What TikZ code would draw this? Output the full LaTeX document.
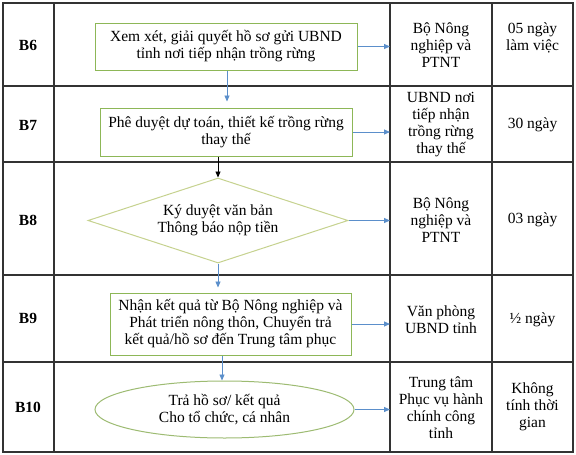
\documentclass[tikz,border=0pt]{standalone}
\usepackage{fontspec}
\setmainfont{Liberation Serif}
\usetikzlibrary{shapes.geometric,arrows.meta}
\definecolor{boxgreen}{HTML}{8DB757}
\definecolor{diagyel}{HTML}{C6D28F}
\definecolor{ellgreen}{HTML}{9DBB72}
\definecolor{arrowblue}{HTML}{5B8FCB}
\definecolor{gridc}{HTML}{333333}
\tikzset{
  gridline/.style={draw=gridc, line width=1.3pt},
  txt/.style={font=\fontsize{15.5}{17}\selectfont, align=center, inner sep=0pt},
  lbl/.style={txt, font=\fontsize{15.5}{17}\selectfont\bfseries},
  procbox/.style={draw=boxgreen, line width=1pt, txt, rectangle},
  decbox/.style={draw=diagyel, line width=1pt, txt, diamond, aspect=3},
  endbox/.style={draw=ellgreen, line width=1pt, txt, ellipse},
  flow/.style={draw=arrowblue, line width=0.8pt, -{Triangle[length=6pt,width=5pt]}},
  blackflow/.style={draw=black, line width=0.8pt, -{Triangle[length=6pt,width=5pt]}}
}
\begin{document}
\begin{tikzpicture}[x=1pt,y=-1pt]
\useasboundingbox (0,0) rectangle (576,455);
\fill[white] (0,0) rectangle (576,455);
% table grid
\draw[gridline] (3,3) rectangle (573,452);
\draw[gridline] (54,3) -- (54,452);
\draw[gridline] (390,3) -- (390,452);
\draw[gridline] (492,3) -- (492,452);
\draw[gridline] (3,86) -- (573,86);
\draw[gridline] (3,162) -- (573,162);
\draw[gridline] (3,275) -- (573,275);
\draw[gridline] (3,362) -- (573,362);
\coordinate (col2) at (390,3);
% step labels
\node[lbl] (l6) at (28,45) {B6};
\node[lbl] (l7) at (28,125) {B7};
\node[lbl] (l8) at (28,220) {B8};
\node[lbl] (l9) at (28,318) {B9};
\node[lbl] (l10) at (28,407) {B10};
% flow shapes
\node[procbox, minimum width=262pt, minimum height=47pt] (b6) at (226,46.5)
  {Xem xét, giải quyết hồ sơ gửi UBND\\tỉnh nơi tiếp nhận trồng rừng};
\node[procbox, minimum width=252pt, minimum height=48pt] (b7) at (226,132)
  {Phê duyệt dự toán, thiết kế trồng rừng\\thay thế};
\node[decbox, minimum width=260pt, minimum height=85pt] (b8) at (218,220.5)
  {Ký duyệt văn bản\\Thông báo nộp tiền};
\node[procbox, minimum width=241pt, minimum height=62pt] (b9) at (230.5,324)
  {Nhận kết quả từ Bộ Nông nghiệp và\\Phát triển nông thôn, Chuyển trả\\kết quả/hồ sơ đến Trung tâm phục};
\node[endbox, minimum width=259pt, minimum height=57pt] (b10) at (224.5,409.5)
  {Trả hồ sơ/ kết quả\\Cho tổ chức, cá nhân};
% responsible units
\node[txt] (u6) at (441,45) {Bộ Nông\\nghiệp và\\PTNT};
\node[txt] (u7) at (441,125) {UBND nơi\\tiếp nhận\\trồng rừng\\thay thế};
\node[txt] (u8) at (441,220) {Bộ Nông\\nghiệp và\\PTNT};
\node[txt] (u9) at (441,320) {Văn phòng\\UBND tỉnh};
\node[txt] (u10) at (441,408) {Trung tâm\\Phục vụ hành\\chính công\\tỉnh};
% durations
\node[txt] (t6) at (532.5,38) {05 ngày\\làm việc};
\node[txt] (t7) at (532.5,125) {30 ngày};
\node[txt] (t8) at (532.5,220) {03 ngày};
\node[txt] (t9) at (532.5,320) {½ ngày};
\node[txt] (t10) at (532.5,407) {Không\\tính thời\\gian};
% vertical connectors
\draw[flow, shorten >=6pt] (b6.south -| 227,0) -- (b7.north -| 227,0);
\draw[blackflow] (b7.south -| b8.north) -- (b8.north);
\draw[flow, shorten >=5pt] (b8.south) -- (b9.north -| b8.south);
\draw[flow] (b9.south -| 222,0) -- (b10.north -| 222,0);
% horizontal connectors
\draw[flow] (b6.east) -- (b6.east -| col2);
\draw[flow] (b7.east) -- (b7.east -| col2);
\draw[flow] (b8.east) -- (b8.east -| col2);
\draw[flow] (b9.east) -- (b9.east -| col2);
\draw[flow] (b10.east) -- (b10.east -| col2);
\end{tikzpicture}
\end{document}
